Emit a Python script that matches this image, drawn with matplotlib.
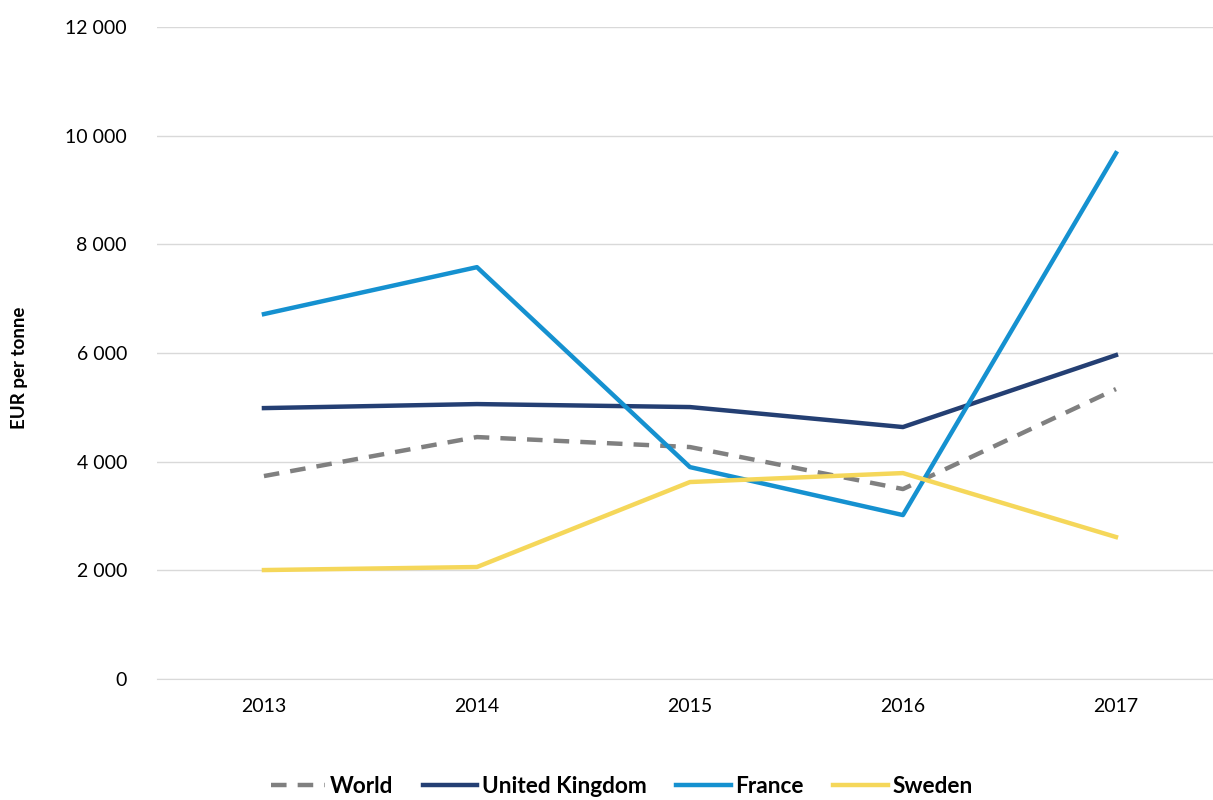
import matplotlib
matplotlib.use("Agg")
import matplotlib.pyplot as plt
from matplotlib.ticker import FuncFormatter

plt.rcParams['font.family'] = ['Lato', 'DejaVu Sans']
NARROW = ['Liberation Sans Narrow', 'Lato', 'DejaVu Sans']

years = ['2013', '2014', '2015', '2016', '2017']
world = [3735, 4453, 4269, 3496, 5336]
uk = [4986, 5060, 5005, 4637, 5961]
france = [6716, 7580, 3900, 3017, 9678]
sweden = [2005, 2061, 3625, 3790, 2613]

fig = plt.figure(figsize=(12.13, 8.0), dpi=100)
ax = fig.add_axes([0.1298, 0.15125, 0.878, 0.815])

x = range(len(years))
lw = 3.2
ax.plot(x, world, color='#808080', lw=lw, dashes=(3.5, 2.5), label='World')
ax.plot(x, uk, color='#243f73', lw=lw, label='United Kingdom')
ax.plot(x, france, color='#1591d0', lw=lw, label='France')
ax.plot(x, sweden, color='#f5d75a', lw=lw, label='Sweden')

ax.set_xlim(-0.5, 4.5)
ax.set_ylim(0, 12000)
ax.set_yticks(range(0, 12001, 2000))
ax.yaxis.set_major_formatter(FuncFormatter(lambda v, p: f"{int(v):,}".replace(',', ' ')))
ax.set_xticks(list(x))
ax.set_xticklabels(years)
ax.grid(axis='y', color='#d9d9d9', lw=1)
ax.set_axisbelow(True)
for s in ['top', 'right', 'left']:
    ax.spines[s].set_visible(False)
ax.spines['bottom'].set_color('#d9d9d9')
ax.tick_params(axis='both', length=0, labelsize=14, colors='#000000')
ax.tick_params(axis='y', pad=22)
ax.tick_params(axis='x', pad=14)
ax.set_ylabel('EUR per tonne', fontsize=13.5, fontweight='bold', family=NARROW)
ax.yaxis.set_label_coords(-0.122, 0.478)

ax.legend(loc='upper center', bbox_to_anchor=(0.436, -0.118), ncol=4, frameon=False,
          prop={'size': 16.3, 'weight': 'bold', 'family': NARROW}, handlelength=2.4,
          columnspacing=1.3, handletextpad=0.22)

fig.savefig('out.png', dpi=100)
